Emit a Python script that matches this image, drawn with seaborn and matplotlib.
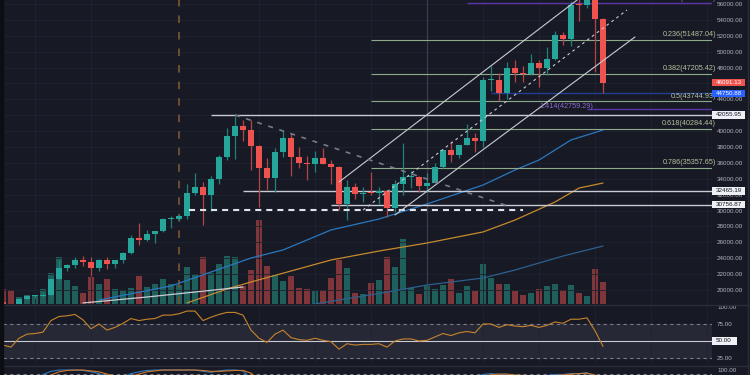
import numpy as np
import pandas as pd
import matplotlib
matplotlib.use("Agg")
import matplotlib.pyplot as plt
import seaborn as sns
from matplotlib.patches import Rectangle
from matplotlib.transforms import blended_transform_factory

# BTC/USDT daily, 2020-12-10 .. 2021-02-23
opens = [18541, 18254, 18036, 18808, 19175, 19273, 19426, 21335, 22797, 23107,
         23821, 23455, 22719, 23810, 23232, 23729, 24712, 26493, 26281, 27079,
         27385, 28876, 28923, 29331, 32176, 33000, 31989, 33950, 36769, 39432,
         40586, 40088, 38150, 35410, 34050, 37372, 39141, 36738, 35995, 35824,
         36622, 35901, 35468, 30852, 32950, 32078, 32259, 32255, 32465, 30366,
         33368, 34246, 34262, 33092, 33517, 35472, 37620, 36936, 38289, 39181,
         38795, 46374, 46420, 44807, 47968, 47298, 47156, 48580, 47911, 49134,
         52118, 51552, 55906, 55841, 57413, 54088]
highs = [18557, 18292, 18948, 19411, 19350, 19570, 21560, 23800, 23285, 24171,
         24295, 24102, 23837, 24100, 23789, 24789, 26867, 28422, 27500, 27410,
         28996, 29300, 29600, 33300, 34778, 33600, 34360, 36939, 40365, 41950,
         41380, 41350, 38264, 36628, 37850, 40100, 39700, 37950, 36852, 37469,
         37850, 36415, 35600, 33826, 33456, 32944, 34875, 32921, 32557, 33783,
         38531, 34933, 34342, 34717, 35984, 37662, 38708, 38310, 40955, 39700,
         46794, 48200, 47310, 48678, 48985, 48150, 49707, 49010, 50623, 52618,
         52530, 56368, 57493, 58352, 57508, 54183]
lows = [17911, 17572, 18020, 18711, 19000, 19050, 19278, 21230, 22350, 22750,
        23060, 21815, 22353, 22600, 22703, 23434, 24500, 25700, 26101, 25880,
        27320, 27850, 28624, 28946, 31963, 28130, 29900, 33288, 36300, 36500,
        38720, 35111, 30420, 32531, 32380, 36701, 34408, 35357, 33850, 34800,
        35844, 33400, 30071, 28850, 31390, 31106, 31910, 30837, 29241, 29842,
        31915, 32825, 32300, 32296, 33418, 35362, 36161, 36570, 38215, 37351,
        37988, 45020, 43727, 43994, 46125, 46202, 47014, 45570, 47003, 48947,
        50901, 50710, 53863, 55477, 47400, 44750]
closes = [18254, 18036, 18808, 19175, 19273, 19426, 21335, 22797, 23107, 23821,
          23455, 22719, 23810, 23232, 23729, 24712, 26493, 26281, 27079, 27385,
          28875, 28924, 29332, 32178, 33000, 31988, 33950, 36769, 39432, 40582,
          40088, 38150, 35404, 34051, 37371, 39144, 36742, 35994, 35828, 36631,
          35891, 35468, 30850, 32945, 32078, 32259, 32254, 32467, 30366, 33364,
          34252, 34262, 33092, 33526, 35466, 37618, 36936, 38290, 39186, 38795,
          46374, 46420, 44807, 47969, 47287, 47153, 48577, 47911, 49133, 52119,
          51552, 55906, 55841, 57408, 54087, 46091]
# volume, thousand BTC
volumes = [30, 28, 14, 18, 16, 30, 62, 94, 48, 36,
           22, 54, 40, 50, 30, 28, 32, 56, 34, 40,
           50, 40, 38, 74, 60, 94, 62, 80, 96, 94,
           36, 68, 168, 76, 58, 46, 56, 32, 30, 26,
           28, 52, 88, 72, 22, 20, 42, 48, 94, 74,
           130, 32, 20, 36, 30, 38, 50, 22, 36, 26,
           80, 52, 40, 40, 26, 18, 22, 30, 36, 40,
           28, 38, 22, 16, 70, 44]
rsi = [44, 41, 54, 60, 61, 63, 80, 86, 87, 89,
       81, 68, 75, 66, 70, 76, 83, 80, 82, 83,
       88, 88, 90, 94, 94, 80, 85, 89, 92, 92,
       88, 66, 54, 48, 60, 66, 55, 52, 51, 54,
       51, 49, 38, 46, 44, 45, 45, 46, 41, 50,
       53, 53, 50, 51, 56, 61, 58, 62, 64, 62,
       75, 75, 70, 74, 72, 71, 73, 70, 73, 78,
       76, 82, 82, 84, 65, 42]
stoch_k = [20, 30, 50, 70, 80, 90, 97, 100, 100, 100,
           99, 96, 92, 85, 80, 85, 92, 96, 99, 100,
           100, 100, 100, 100, 100, 97, 95, 98, 100, 100,
           98, 80, 50, 30, 30, 40, 30, 20, 15, 20,
           20, 15, 5, 10, 15, 20, 25, 30, 25, 35,
           45, 50, 45, 50, 60, 70, 75, 80, 85, 85,
           90, 92, 90, 90, 88, 86, 88, 86, 88, 90,
           90, 92, 92, 94, 80, 50]
stoch_d = [15, 22, 35, 50, 67, 80, 89, 96, 99, 100,
           100, 98, 96, 91, 86, 84, 86, 91, 96, 98,
           100, 100, 100, 100, 100, 99, 97, 97, 98, 99,
           99, 93, 76, 53, 37, 33, 33, 30, 22, 18,
           18, 18, 13, 10, 10, 15, 20, 25, 27, 30,
           35, 43, 47, 48, 52, 60, 68, 75, 80, 83,
           87, 89, 91, 91, 89, 88, 87, 87, 87, 88,
           89, 91, 92, 93, 89, 75]

# moving averages (candle index, price)
ma50_x = [12, 21, 31, 35, 41, 47, 53, 60, 64, 67, 71, 75]
ma50 = [18730, 20500, 24020, 25030, 27550, 28930, 30820, 33210, 35100, 36360, 38880, 40140]
ma100_x = [23, 28, 31, 41, 47, 53, 60, 64, 69, 72, 75]
ma100 = [18360, 20120, 21000, 23770, 24900, 25910, 27300, 28800, 31070, 32830, 33460]
ma200_x = [37, 39, 47, 53, 60, 64, 70, 75]
ma200 = [17950, 18230, 19560, 20620, 21500, 22510, 24270, 25530]
wline_x = [10, 18, 24, 30]
wline = [18360, 19110, 19740, 20370]

# drawings
fib_names = ['0.236', '0.382', '0.5', '0.618', '0.786']
fib_prices = [51487.04, 47205.42, 43744.93, 40284.44, 35357.65]
fib_start = 46
hlines_prices = [42055.95, 32465.19, 30756.87]
hlines_start = [26, 30, 41]
support_dashed = 30070
support_span = [23.25, 65]
low_line = 44750.88
ext_prices = [56112.20, 42759.29]
ext_start = [58, 73]
chan_upper = ([42, 72], [33590, 56690])
chan_mid = ([45, 78], [30065, 55245])
chan_lower = ([49, 79], [29440, 51850])
down_trend = ([29, 63.1], [42030, 30570])

W, H = 750, 375
BG = '#171a25'
UP, DN = '#26a69a', '#ef5350'
VUP, VDN = '#1f5f5b', '#7f353a'
GRID = '#1f2330'
TXT = '#b2b5be'

sns.set_theme(style='dark', rc={'axes.facecolor': BG, 'figure.facecolor': BG,
                                'axes.edgecolor': BG, 'axes.grid': False})
plt.rcParams['font.family'] = ['Liberation Sans', 'DejaVu Sans']

fig = plt.figure(figsize=(7.5, 3.75), dpi=100, facecolor=BG)


def rect(x0, y0, x1, y1):
    return [x0 / W, 1 - y1 / H, (x1 - x0) / W, (y1 - y0) / H]


X0, X1 = 3, 712
XLIM = (0, (X1 - X0) / 8)
idx = np.arange(len(closes))
o, hi, lo, c = map(np.array, (opens, highs, lows, closes))
up = c >= o

# volume pane (behind price)
axv = fig.add_axes(rect(X0, 0, X1, 304), label='vol')
axv.bar(idx, volumes, width=0.85, color=np.where(up, VUP, VDN), linewidth=0)
axv.set_ylim(0, 608)
axv.set_xlim(*XLIM)
axv.axis('off')

ax = fig.add_axes(rect(X0, 0, X1, 304), label='price')
ax.patch.set_alpha(0)
ax.set_xlim(*XLIM)
ax.set_ylim(18230, 56504)

for p in range(18000, 58000, 2000):
    ax.axhline(p, color=GRID, lw=0.6, zorder=0)
for g in [4, 11, 32, 39, 46, 60, 67, 74, 81, 88]:
    ax.axvline(g, color=GRID, lw=0.6, zorder=0)
ax.axvline(53, color='#3a3e4a', lw=0.9, zorder=0.5)
ax.axvline(22, color='#6e5032', lw=1.4, ls=(0, (3.9, 4.6)), zorder=0.5)

# MAs
sns.lineplot(x=ma50_x, y=ma50, ax=ax, color='#2a78c0', lw=0.9, sort=False, estimator=None, zorder=2)
sns.lineplot(x=ma100_x, y=ma100, ax=ax, color='#c68a2e', lw=0.9, sort=False, estimator=None, zorder=2)
sns.lineplot(x=ma200_x, y=ma200, ax=ax, color='#2d5f8f', lw=0.9, sort=False, estimator=None, zorder=2)
sns.lineplot(x=wline_x, y=wline, ax=ax, color='#c9ccd4', lw=0.9, sort=False, estimator=None, zorder=2)

# candles
ax.vlines(idx, lo, hi, colors=np.where(up, '#1f8379', '#b5444a'), lw=0.9, zorder=3)
body = np.maximum(np.abs(c - o), 130)
ax.bar(idx, body, bottom=np.minimum(o, c), width=0.72,
       color=np.where(up, UP, DN), linewidth=0, zorder=4)

# drawings
tr_ax = blended_transform_factory(ax.transAxes, ax.transData)
for name, p in zip(fib_names, fib_prices):
    ax.hlines(p, fib_start, XLIM[1], color='#8fa98b', lw=0.8, zorder=2)
    ax.annotate(f'{name}({p:.2f})', xy=(1.0056, p), xycoords=tr_ax, xytext=(0, 1.2),
                textcoords='offset points', ha='right', va='bottom', fontsize=5.2,
                color='#b3c29c', annotation_clip=False, zorder=6)
for p, s in zip(hlines_prices, hlines_start):
    ax.hlines(p, s, XLIM[1], color='#c8cbd3', lw=1.0, zorder=2)
ax.hlines(support_dashed, *support_span, color='#e0e3eb', lw=1.5, ls=(0, (2.9, 2.4)), zorder=5)
ax.hlines(low_line, 61, XLIM[1], color='#1f3f8f', lw=1.0, zorder=2)
ax.hlines(ext_prices[0], ext_start[0], XLIM[1], color='#5b34a8', lw=1.0, zorder=2)
ax.hlines(ext_prices[1], ext_start[1], XLIM[1], color='#5b34a8', lw=1.0, zorder=2)
ax.annotate(f'1.414({ext_prices[0]:.2f})', xy=(1.0056, ext_prices[0]), xycoords=tr_ax,
            xytext=(0, 0.6), textcoords='offset points', ha='right', va='bottom',
            fontsize=5.2, color='#8e6bd1', annotation_clip=False, zorder=6)
ax.text(67.1, ext_prices[1] + 380, f'1.414({ext_prices[1]:.2f})', ha='left', va='center',
        fontsize=5.2, color='#8e6bd1', zorder=6)
ax.plot(*chan_upper, color='#c8cbd3', lw=0.8, zorder=5)
ax.plot(*chan_lower, color='#c8cbd3', lw=0.8, zorder=5)
ax.plot(*chan_mid, color='#c8cbd3', lw=0.8, ls=(0, (2.5, 3)), zorder=5)
ax.plot(*down_trend, color='#787b86', lw=1.2, ls=(0, (3, 4)), zorder=5)

ax.yaxis.tick_right()
ax.set_yticks(range(20000, 58000, 2000))
ax.set_yticklabels([f'{t:.2f}' for t in range(20000, 58000, 2000)])
ax.tick_params(axis='y', length=0, pad=3.6, labelsize=4.5, labelcolor=TXT)
ax.set_xticks([])
ax.set_xlabel('')
ax.set_ylabel('')
for s in ax.spines.values():
    s.set_visible(False)


def tag(a, val, label, fc, tc, upp, w=33):
    tr = blended_transform_factory(fig.transFigure, a.transData)
    hgt = 7.5 * upp
    a.add_artist(Rectangle((712 / W, val - hgt / 2), w / W, hgt, transform=tr,
                           facecolor=fc, edgecolor='none', clip_on=False, zorder=10))
    a.text(716 / W, val, label, transform=tr, ha='left', va='center', fontsize=4.5,
           color=tc, zorder=11, clip_on=False)


UPP = (56504 - 18230) / 304
tag(ax, 46091.13, '46091.13', '#ef5350', 'white', UPP)
tag(ax, 44750.88, '44750.88', '#2962ff', 'white', UPP)
for p in hlines_prices:
    tag(ax, p, f'{p:.2f}', '#eef0f5', '#131722', UPP)

# RSI pane
ax2 = fig.add_axes(rect(X0, 305, X1, 365))
ax2.set_xlim(*XLIM)
ax2.set_ylim(14.7, 102.9)
ax2.axhspan(25, 75, color='#262935', zorder=0)
for g in [4, 11, 32, 39, 46, 60, 67, 74, 81, 88]:
    ax2.axvline(g, color=GRID, lw=0.6, zorder=0.5)
ax2.axhline(75, color='#787b86', lw=0.8, ls=(0, (3, 3)))
ax2.axhline(25, color='#787b86', lw=0.8, ls=(0, (3, 3)))
ax2.axhline(50, color='#c8cbd3', lw=0.8)
sns.lineplot(x=idx, y=rsi, ax=ax2, color='#c8842c', lw=0.8, sort=False, estimator=None, zorder=3)
ax2.yaxis.tick_right()
ax2.set_yticks([25, 75, 100])
ax2.set_yticklabels(['25.00', '75.00', '100.00'])
ax2.tick_params(axis='y', length=0, pad=3.6, labelsize=4.5, labelcolor=TXT)
ax2.set_xticks([])
ax2.set_xlabel('')
ax2.set_ylabel('')
for s in ax2.spines.values():
    s.set_visible(False)
tag(ax2, 50, '50.00', '#eef0f5', '#131722', 88.2 / 60, w=25)

# stoch pane (mostly cut off)
ax3 = fig.add_axes(rect(X0, 366, X1, 375))
ax3.set_xlim(*XLIM)
ax3.set_ylim(88.9, 108.9)
ax3.axhline(91, color='#787b86', lw=0.8, ls=(0, (3, 3)))
sns.lineplot(x=idx, y=stoch_k, ax=ax3, color='#2a78c0', lw=0.8, sort=False, estimator=None)
sns.lineplot(x=idx, y=stoch_d, ax=ax3, color='#d2782c', lw=0.8, sort=False, estimator=None)
ax3.yaxis.tick_right()
ax3.set_yticks([100])
ax3.set_yticklabels(['100.00'])
ax3.tick_params(axis='y', length=0, pad=3.6, labelsize=4.5, labelcolor=TXT)
ax3.set_xticks([])
ax3.set_xlabel('')
ax3.set_ylabel('')
for s in ax3.spines.values():
    s.set_visible(False)

# pane separators and borders
for yy in (304.5, 365.5):
    fig.add_artist(plt.Line2D([0, 1], [1 - yy / H] * 2, color='#2a2e39', lw=1.0))
fig.add_artist(Rectangle((0, 0), 3 / W, 1, transform=fig.transFigure, color='#0c0e14', zorder=20))
fig.add_artist(plt.Line2D([747.5 / W] * 2, [0, 1], color='#2a2e39', lw=1.0))

fig.savefig('out.png', dpi=100, facecolor=BG)
